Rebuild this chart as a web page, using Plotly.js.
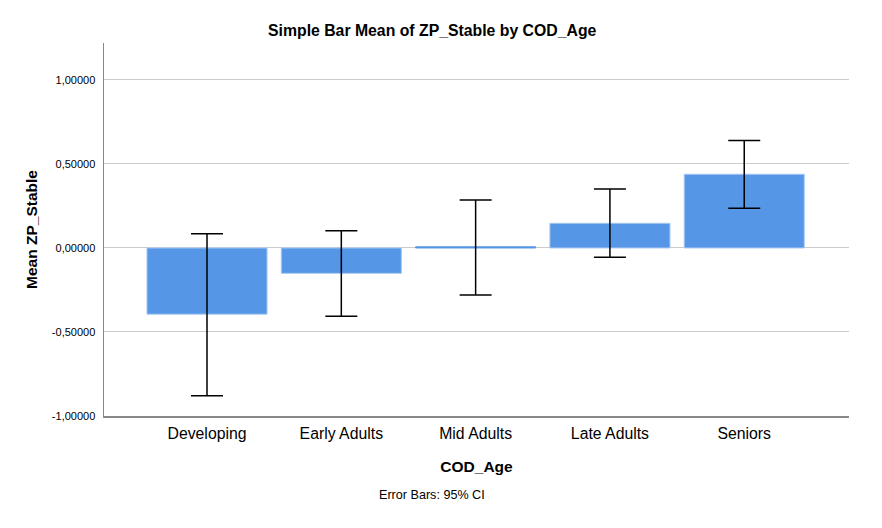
<!DOCTYPE html>
<html>
<head>
<meta charset="utf-8">
<script src="https://cdn.plot.ly/plotly-3.0.1.min.js"></script>
<style>html,body{margin:0;padding:0;background:#fff;}#chart{width:882px;height:528px;}</style>
</head>
<body>
<div id="chart"></div>
<script>
const categories = ["Developing", "Early Adults", "Mid Adults", "Late Adults", "Seniors"];
const means = [-0.394, -0.151, 0.007, 0.147, 0.439];
const ciUpper = [0.085, 0.103, 0.286, 0.351, 0.639];
const ciLower = [-0.879, -0.407, -0.280, -0.055, 0.236];
const yTickVals = [-1, -0.5, 0, 0.5, 1];
const yTickText = ["-1,00000", "-0,50000", "0,00000", "0,50000", "1,00000"];

const errPlus = means.map((m, i) => ciUpper[i] - m);
const errMinus = means.map((m, i) => m - ciLower[i]);
// thin bars are drawn with the fill colour as outline so they stay visible
const outline = means.map(m => Math.abs(m) < 0.02 ? "#5596E6" : "#a9c9f2");

const trace = {
  type: "bar",
  x: categories,
  y: means,
  marker: {color: "#5596E6", line: {color: outline, width: 1}},
  width: 0.894,
  error_y: {type: "data", symmetric: false, array: errPlus, arrayminus: errMinus,
            color: "#000000", thickness: 1.5, width: 16},
  hoverinfo: "none"
};

const layout = {
  width: 882, height: 528,
  margin: {l: 104, r: 33, t: 43, b: 112},
  paper_bgcolor: "#ffffff", plot_bgcolor: "#ffffff",
  font: {family: "Liberation Sans, Arial, sans-serif", color: "#000"},
  showlegend: false,
  title: {text: "<b>Simple Bar Mean of ZP_Stable by COD_Age</b>", x: 0.49, xanchor: "center",
          y: 0.943, yanchor: "middle", font: {size: 15.8, color: "#000"}},
  xaxis: {type: "category", range: [-0.767, 4.78], showgrid: false, zeroline: false,
          showline: true, linecolor: "#888", linewidth: 1.5, ticks: "",
          tickfont: {size: 15.8, color: "#000"}, ticklabelstandoff: 3,
          title: {text: "<b>COD_Age</b>", font: {size: 15.5, color: "#000"}, standoff: 19}},
  yaxis: {range: [-1, 1.22], tickvals: yTickVals, ticktext: yTickText,
          showgrid: true, gridcolor: "#cccccc", gridwidth: 1, zeroline: false,
          showline: true, linecolor: "#888", linewidth: 1.5, ticks: "",
          tickfont: {size: 11, color: "#000"}, ticklabelstandoff: 5,
          title: {text: "<b>Mean ZP_Stable</b>", font: {size: 15.5, color: "#000"}, standoff: 10}},
  annotations: [{text: "Error Bars: 95% CI", xref: "paper", yref: "paper", x: 0.44, y: -0.213,
                 xanchor: "center", yanchor: "middle", showarrow: false,
                 font: {size: 12.6, color: "#000"}}]
};

Plotly.newPlot("chart", [trace], layout, {displayModeBar: false, staticPlot: true});
</script>
</body>
</html>
